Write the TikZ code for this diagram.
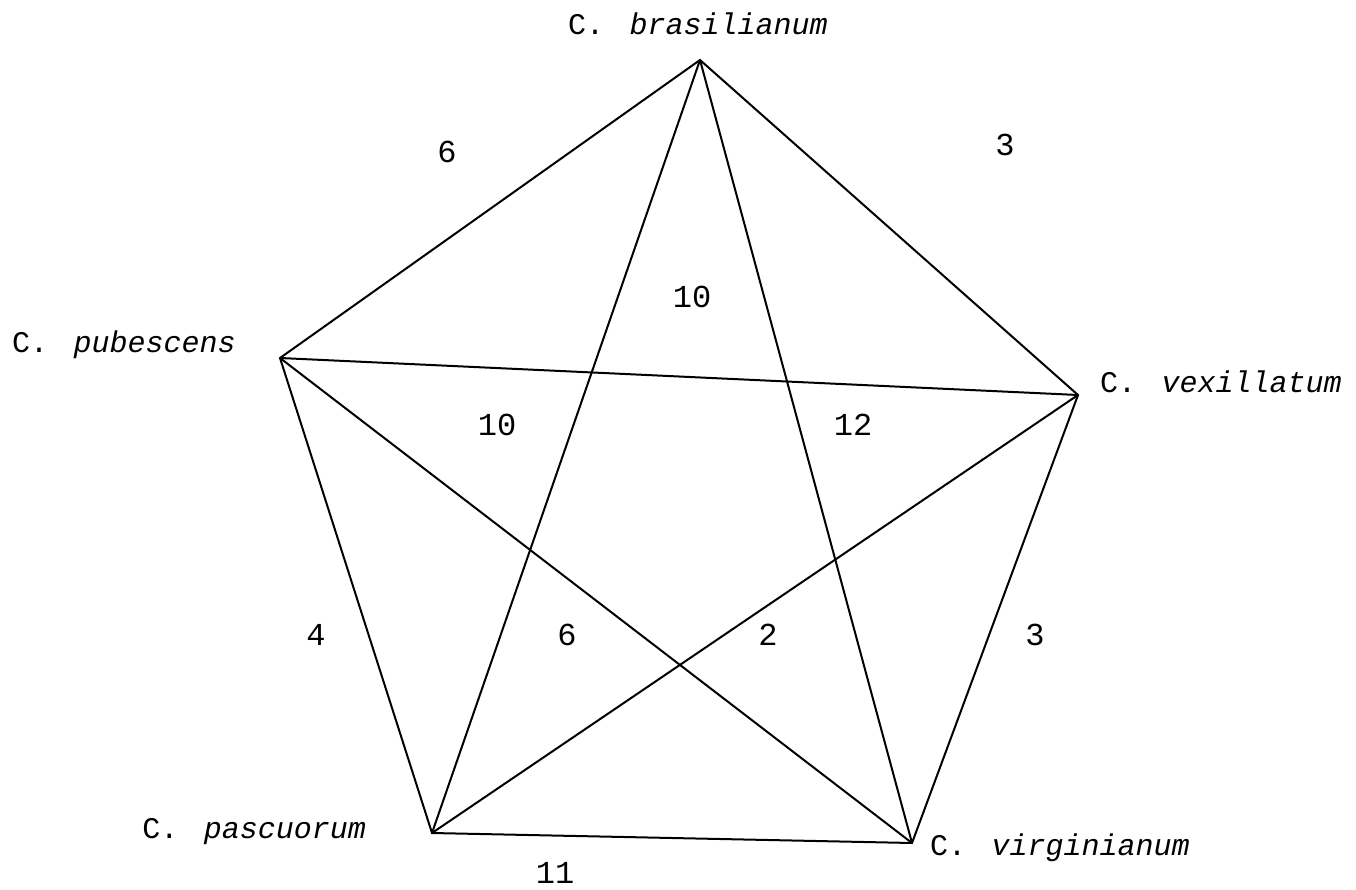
\documentclass[tikz,border=0pt]{standalone}
\usepackage{fontspec}
\setmonofont{Liberation Mono}
\newcommand{\Cg}{C.\ \hspace{0.25em}}
\begin{document}
\begin{tikzpicture}[x=1pt,y=-1pt,
  edge/.style={line width=2pt,black},
  sp/.style={font=\fontsize{30}{30}\selectfont\ttfamily,inner sep=0pt},
  num/.style={font=\fontsize{32}{32}\selectfont\ttfamily,inner sep=0pt}]
\useasboundingbox (0,0) rectangle (1356,890);
\coordinate (B) at (700,60);
\coordinate (V) at (1078,395);
\coordinate (G) at (912,843);
\coordinate (P) at (432,833);
\coordinate (U) at (280,358);
% labels
\node[sp] (lB) at (698,24) {\Cg\textit{brasilianum}};
\node[sp,anchor=west] (lV) at (1100,382) {\Cg\textit{vexillatum}};
\node[sp,anchor=west] (lG) at (930,848) {\Cg\textit{virginianum}};
\node[sp,anchor=east] (lP) at (366,832) {\Cg\textit{pascuorum}};
\node[sp,anchor=west] (lU) at (12,345) {\Cg\textit{pubescens}};
% edges
\draw[edge] (B) -- (V) -- (G) -- (P) -- (U) -- cycle;
\draw[edge] (B) -- (G);
\draw[edge] (B) -- (P);
\draw[edge] (U) -- (V);
\draw[edge] (U) -- (G);
\draw[edge] (V) -- (P);
% numbers
\node[num] (n1) at (447,152) {6};
\node[num] (n2) at (1005,145) {3};
\node[num] (n3) at (692,297) {10};
\node[num] (n4) at (497,425) {10};
\node[num] (n5) at (853,425) {12};
\node[num] (n6) at (316,635) {4};
\node[num] (n7) at (567,635) {6};
\node[num] (n8) at (768,635) {2};
\node[num] (n9) at (1035,635) {3};
\node[num] (n10) at (555,873) {11};
\end{tikzpicture}
\end{document}
